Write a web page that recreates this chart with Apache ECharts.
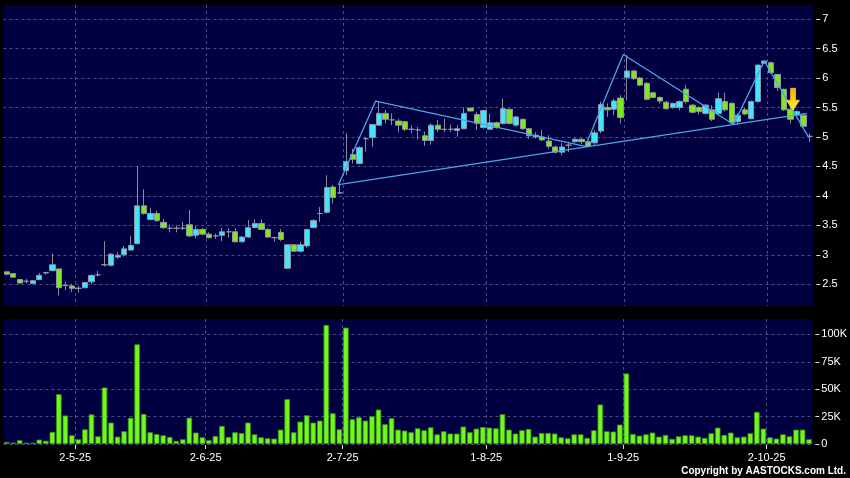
<!DOCTYPE html>
<html><head><meta charset="utf-8">
<script src="https://cdn.jsdelivr.net/npm/echarts@6/dist/echarts.min.js"></script>
<style>html,body{margin:0;padding:0;background:#000;}#c{width:850px;height:478px;}</style>
</head><body><div id="c"></div>
<script>
// trading days (d-m-yy)
const dates = [
'15-4-25','16-4-25','17-4-25','22-4-25','23-4-25','24-4-25','25-4-25','28-4-25','29-4-25','30-4-25',
'2-5-25','6-5-25','7-5-25','8-5-25','9-5-25','12-5-25','13-5-25','14-5-25','15-5-25','16-5-25','19-5-25','20-5-25','21-5-25','22-5-25','23-5-25','26-5-25','27-5-25','28-5-25','29-5-25','30-5-25',
'2-6-25','3-6-25','4-6-25','5-6-25','6-6-25','9-6-25','10-6-25','11-6-25','12-6-25','13-6-25','16-6-25','17-6-25','18-6-25','19-6-25','20-6-25','23-6-25','24-6-25','25-6-25','26-6-25','27-6-25','30-6-25',
'2-7-25','3-7-25','4-7-25','7-7-25','8-7-25','9-7-25','10-7-25','11-7-25','14-7-25','15-7-25','16-7-25','17-7-25','18-7-25','21-7-25','22-7-25','23-7-25','24-7-25','25-7-25','28-7-25','29-7-25','30-7-25','31-7-25',
'1-8-25','4-8-25','5-8-25','6-8-25','7-8-25','8-8-25','11-8-25','12-8-25','13-8-25','14-8-25','15-8-25','18-8-25','19-8-25','20-8-25','21-8-25','22-8-25','25-8-25','26-8-25','27-8-25','28-8-25','29-8-25',
'1-9-25','2-9-25','3-9-25','4-9-25','5-9-25','8-9-25','9-9-25','10-9-25','11-9-25','12-9-25','15-9-25','16-9-25','17-9-25','18-9-25','19-9-25','22-9-25','23-9-25','24-9-25','25-9-25','26-9-25','29-9-25','30-9-25',
'2-10-25','3-10-25','6-10-25','8-10-25','9-10-25','10-10-25','13-10-25','14-10-25'];

// [open, close, low, high]
const ohlc = [
[2.71,2.67,2.65,2.72],[2.68,2.62,2.61,2.69],[2.58,2.52,2.51,2.59],[2.55,2.55,2.51,2.59],[2.51,2.56,2.50,2.57],
[2.58,2.65,2.57,2.69],[2.70,2.69,2.66,2.71],[2.73,2.83,2.72,3.02],[2.76,2.44,2.31,2.76],[2.48,2.48,2.40,2.54],
[2.47,2.43,2.37,2.50],[2.43,2.43,2.36,2.47],[2.44,2.53,2.43,2.54],[2.54,2.65,2.50,2.66],[2.66,2.66,2.63,2.73],
[2.83,2.83,2.80,3.23],[2.82,3.01,2.80,3.03],[2.96,2.99,2.93,3.04],[3.00,3.10,2.97,3.15],[3.08,3.16,3.07,3.32],
[3.19,3.83,3.17,4.50],[3.83,3.70,3.68,4.11],[3.60,3.70,3.58,3.79],[3.70,3.58,3.56,3.75],[3.55,3.46,3.44,3.61],
[3.45,3.45,3.38,3.51],[3.45,3.45,3.38,3.50],[3.45,3.45,3.42,3.56],[3.51,3.32,3.30,3.76],[3.33,3.43,3.28,3.49],
[3.43,3.35,3.33,3.46],[3.35,3.29,3.28,3.38],[3.32,3.32,3.27,3.36],[3.33,3.39,3.23,3.46],[3.39,3.39,3.29,3.45],
[3.39,3.22,3.21,3.45],[3.22,3.30,3.21,3.32],[3.30,3.46,3.29,3.59],[3.46,3.53,3.45,3.60],[3.53,3.43,3.42,3.60],
[3.43,3.30,3.29,3.45],[3.29,3.29,3.22,3.31],[3.38,3.26,3.23,3.44],[2.77,3.17,2.76,3.18],[3.17,3.06,3.05,3.18],
[3.06,3.17,3.04,3.22],[3.15,3.43,3.12,3.44],[3.46,3.58,3.45,3.60],[3.70,3.70,3.56,3.81],[3.72,4.14,3.70,4.35],
[4.15,3.97,3.87,4.18],[4.05,4.05,4.03,4.19],[4.43,4.58,4.35,5.06],[4.70,4.62,4.55,4.80],[4.55,4.82,4.53,4.84],
[4.97,4.97,4.75,5.00],[4.99,5.21,4.83,5.22],[5.20,5.40,5.19,5.61],[5.40,5.30,5.23,5.46],[5.29,5.29,5.20,5.40],
[5.27,5.20,5.08,5.31],[5.26,5.13,5.10,5.27],[5.13,5.13,5.06,5.20],[5.12,5.12,4.96,5.17],[5.02,4.94,4.85,5.09],
[4.94,5.20,4.87,5.23],[5.20,5.13,5.08,5.29],[5.13,5.13,5.08,5.31],[5.13,5.13,5.08,5.21],[5.11,5.14,5.00,5.20],
[5.14,5.40,5.13,5.50],[5.49,5.44,5.43,5.50],[5.38,5.23,5.12,5.43],[5.16,5.45,5.14,5.46],[5.13,5.24,5.12,5.40],
[5.24,5.16,5.14,5.26],[5.23,5.48,5.21,5.65],[5.47,5.23,5.21,5.48],[5.20,5.34,5.18,5.36],[5.30,5.14,5.12,5.31],
[5.14,5.02,4.97,5.15],[5.00,5.03,4.97,5.08],[5.00,4.95,4.93,5.12],[4.93,4.84,4.80,5.03],[4.83,4.74,4.72,4.85],
[4.74,4.83,4.69,4.90],[4.86,4.86,4.74,4.92],[4.92,4.96,4.90,4.98],[4.96,4.92,4.88,4.98],[4.92,4.84,4.83,4.93],
[4.90,5.07,4.86,5.12],[5.10,5.55,5.06,5.60],[5.50,5.46,5.34,5.57],[5.47,5.61,5.37,5.65],[5.66,5.33,5.23,5.71],
[6.01,6.12,5.62,6.39],[6.12,5.99,5.97,6.14],[6.00,5.88,5.86,6.02],[5.91,5.64,5.62,5.93],[5.75,5.67,5.66,5.77],
[5.67,5.61,5.57,5.69],[5.59,5.48,5.46,5.61],[5.50,5.57,5.48,5.58],[5.50,5.60,5.45,5.62],[5.81,5.60,5.57,5.88],
[5.54,5.42,5.40,5.56],[5.50,5.43,5.38,5.52],[5.40,5.54,5.38,5.56],[5.46,5.30,5.27,5.54],[5.40,5.65,5.37,5.75],
[5.60,5.46,5.43,5.75],[5.57,5.24,5.22,5.59],[5.26,5.37,5.20,5.40],[5.46,5.39,5.37,5.50],[5.31,5.60,5.30,5.62],
[5.60,6.22,5.58,6.23],[6.25,6.29,6.24,6.30],[6.26,6.09,6.08,6.28],[6.06,5.84,5.78,6.07],[5.81,5.46,5.44,5.82],
[5.47,5.30,5.23,5.51],[5.37,5.43,5.35,5.45],[5.37,5.18,5.16,5.39],[5.01,5.01,4.92,5.06]];

const volumes = [
1800,1200,3400,1200,1200,4000,3000,11000,45400,26000,
8000,4300,13400,27000,7000,51500,19500,6700,11600,23800,
90900,27400,10700,9100,7900,6400,2700,4300,24000,10400,
6100,3400,7300,16500,6400,10700,10000,19500,8800,6100,
5200,4900,13100,40900,10700,20400,26200,19500,21300,108500,
28000,13400,106100,22600,24400,21300,25300,31400,18000,23500,
13100,12200,10700,14300,12500,15200,8800,11600,9500,9500,
15900,10700,14000,15500,14900,14300,27100,13100,9500,12500,
13700,6700,10000,10000,9500,6100,5200,8800,8800,5500,
12500,36000,11600,11300,17700,64300,9100,7600,8800,10400,
6700,8200,4600,7000,7900,7900,6700,5500,9800,14900,
8200,10400,6100,6700,9800,29300,14000,6100,4900,8800,
7000,13100,13100,4300];

const dateTickLabels = ['2-5-25','2-6-25','2-7-25','1-8-25','1-9-25','2-10-25'];
const priceTicks = [2.5,3,3.5,4,4.5,5,5.5,6,6.5,7];
const volumeTicks = [0,25000,50000,75000,100000];

// pattern lines: [day index, price]
const zigzagLine = [[50.8,4.19],[56.5,5.61],[88.6,4.84],[94.4,6.40],[111.3,5.21],[116,6.29],[122.7,5.01]];
const trendLine = [[50.8,4.19],[122.5,5.40]];
const signalArrow = [[120.4,5.64]];

const N = dates.length;
// date ticks sit on the boundary after each labelled day
const dateTickPos = dateTickLabels.map(d => dates.indexOf(d) + 0.5);

const gridLine = {color:'#4b4b8c', type:[3,3], width:1};
const tickStyle = {color:'#e0e0e0', width:1};
const FONT = 'Liberation Sans';
const L = 3.4, R = 36.7;
const noLine = {show:false, onZero:false};

const chart = echarts.init(document.getElementById('c'), null, {renderer:'canvas'});
chart.setOption({
  backgroundColor:'#000',
  animation:false,
  grid:[
    {left:L, right:R, top:5, height:301, show:true, backgroundColor:'#000040', borderWidth:0},
    {left:L, right:R, top:319, height:125, show:true, backgroundColor:'#000040', borderWidth:0}
  ],
  xAxis:[
    {type:'category', gridIndex:0, data:dates, boundaryGap:true, show:false, axisLine:noLine},
    {type:'category', gridIndex:1, data:dates, boundaryGap:true, show:false, axisLine:noLine},
    {type:'value', gridIndex:0, min:-0.5, max:N-0.5, position:'bottom',
     axisLine:noLine, axisTick:{show:false, customValues:dateTickPos},
     axisLabel:{show:false, customValues:dateTickPos},
     splitLine:{show:true, lineStyle:gridLine}},
    {type:'value', gridIndex:1, min:-0.5, max:N-0.5, position:'bottom', offset:1,
     axisLine:noLine,
     axisTick:{show:true, customValues:dateTickPos, length:4, lineStyle:tickStyle},
     axisLabel:{customValues:dateTickPos, color:'#ffffff', fontSize:11, fontFamily:FONT, margin:7,
       formatter:(v)=> dates[Math.round(v - 0.5)]},
     splitLine:{show:true, lineStyle:gridLine}}
  ],
  yAxis:[
    {type:'value', gridIndex:0, position:'right', min:2.13, max:7.24, offset:3,
     axisLine:noLine,
     axisTick:{show:true, customValues:priceTicks, length:4, lineStyle:tickStyle},
     axisLabel:{customValues:priceTicks, color:'#ffffff', fontSize:11, fontFamily:FONT, margin:6},
     splitLine:{show:true, lineStyle:gridLine}},
    {type:'value', gridIndex:1, position:'right', min:0, max:114000, offset:3,
     axisLine:noLine,
     axisTick:{show:true, customValues:volumeTicks, length:4, lineStyle:tickStyle},
     axisLabel:{customValues:volumeTicks, color:'#ffffff', fontSize:11, fontFamily:FONT, margin:6,
       formatter:(v)=> v===0 ? '0' : (v/1000)+'K'},
     splitLine:{show:true, lineStyle:gridLine}}
  ],
  series:[
    {type:'candlestick', xAxisIndex:0, yAxisIndex:0, data:ohlc, barWidth:5.8,
     itemStyle:{color:'#3fe6fc', color0:'#7fe622', borderColor:'#9a9aaa', borderColor0:'#9a9aaa', borderColorDoji:'#9a9aaa', borderWidth:0.9}},
    {type:'line', xAxisIndex:2, yAxisIndex:0, data:zigzagLine, symbol:'none', z:5,
     lineStyle:{color:'#4aa6e6', width:1.3}},
    {type:'line', xAxisIndex:2, yAxisIndex:0, data:trendLine, symbol:'none', z:5,
     lineStyle:{color:'#4aa6e6', width:1.3}},
    {type:'scatter', xAxisIndex:2, yAxisIndex:0, data:signalArrow, z:6,
     symbol:'path://M4,0 L9,0 L9,12 L13,12 L6.5,22 L0,12 L4,12 Z', symbolSize:[13,22],
     itemStyle:{opacity:1, color:{type:'linear',x:0,y:0,x2:0,y2:1,colorStops:[{offset:0,color:'#ffae10'},{offset:0.5,color:'#ffd000'},{offset:1,color:'#ffec40'}]},
       borderColor:'#ffd84a', borderWidth:0.6}},
    {type:'bar', xAxisIndex:1, yAxisIndex:1, data:volumes, barWidth:5.5,
     itemStyle:{color:'#70f81c', borderColor:'#3f9414', borderWidth:0.8}}
  ],
  graphic:[
    {type:'text', right:4, top:466, style:{text:'Copyright by AASTOCKS.com Ltd.', fill:'#ffffff', font:'bold 10px "Liberation Sans"'}}
  ]
});
</script></body></html>
